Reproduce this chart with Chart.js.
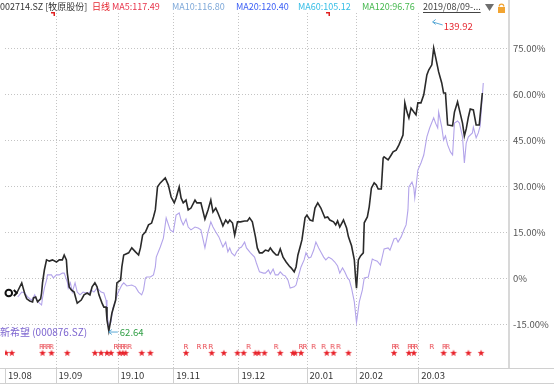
<!DOCTYPE html>
<html>
<head>
<meta charset="utf-8">
<script src="https://cdn.jsdelivr.net/npm/chart.js@4.4.1/dist/chart.umd.min.js"></script>
<style>
  html, body { margin: 0; padding: 0; background: #fff; }
</style>
</head>
<body>
<canvas id="chart" width="554" height="384"></canvas>
<script>
// ===== data =====
// x = trading day index from the first day shown, y = % change since start
const muyuanLine = [[0,-4.9],[1.6,-1.6],[2.6,-5.2],[3.2,-6.8],[4.2,-7.5],[5.1,-7.8],[5.4,-6.5],[6.1,-6.2],[6.7,-7.8],[7.7,-6.8],[8.0,-4.9],[8.3,-1.6],[8.9,2.6],[9.6,5.9],[10.5,5.5],[11.5,5.9],[12.8,5.2],[13.7,5.9],[14.7,5.9],[15.3,7.5],[16.0,5.9],[16.3,1.6],[16.9,-2.9],[17.6,-3.9],[18.5,-4.6],[19.2,-7.2],[19.5,-8.2],[20.8,-7.2],[21.7,-5.5],[22.7,-4.9],[23.6,-5.5],[24.3,-2.9],[25.2,-1.6],[25.9,-2.9],[26.5,-5.5],[27.5,-8.2],[28.1,-9.5],[28.8,-9.5],[29.1,-13.7],[29.7,-17.3],[30.7,-11.4],[31.9,-7.2],[32.3,-1.6],[33.5,-0.7],[33.9,3.6],[34.5,7.5],[36.1,8.2],[37.1,9.8],[38.3,8.5],[39.3,7.5],[39.9,9.8],[40.6,14.0],[41.5,15.0],[42.5,17.3],[43.5,17.9],[44.1,19.9],[44.7,22.2],[45.4,29.7],[46.3,31.0],[47.9,32.6],[48.9,30.3],[49.8,26.4],[50.8,24.5],[51.4,26.1],[52.4,29.7],[53.0,26.1],[53.7,24.5],[54.6,25.4],[55.3,22.2],[56.2,22.8],[57.5,25.4],[58.1,24.5],[59.4,24.5],[60.7,19.2],[61.7,22.2],[62.6,25.4],[63.3,21.5],[64.2,22.8],[64.9,21.2],[65.8,18.9],[66.5,17.0],[67.4,18.9],[68.1,17.9],[68.7,18.9],[69.6,17.9],[70.3,14.0],[71.2,18.3],[72.2,18.3],[73.5,18.6],[74.4,18.6],[75.1,19.6],[76.0,18.3],[77.0,13.4],[77.6,9.8],[78.3,8.2],[79.2,8.2],[80.2,9.1],[81.2,8.8],[81.8,9.8],[82.7,8.5],[83.7,7.5],[84.3,7.5],[85.0,9.5],[85.9,6.8],[86.9,5.2],[87.9,3.9],[88.5,3.3],[89.5,2.0],[90.1,3.6],[90.7,7.5],[91.4,10.1],[92.0,12.4],[93.0,19.6],[93.6,20.5],[94.6,18.9],[95.5,18.6],[96.2,22.8],[97.1,24.5],[98.1,22.8],[99.4,19.6],[100.3,19.9],[101.0,18.9],[102.2,18.3],[102.9,17.3],[103.5,18.6],[104.2,16.6],[105.4,18.9],[106.4,16.3],[107.0,13.4],[108.0,10.5],[108.9,5.9],[109.3,0],[109.6,-3.3],[110.2,5.9],[110.9,7.2],[111.8,8.2],[112.1,18.0],[113.1,19.9],[113.7,23.2],[114.4,29.3],[115.3,31.0],[116.0,30.3],[116.6,29.0],[117.6,29.0],[118.2,39.1],[118.5,39.5],[119.8,38.5],[120.8,40.1],[121.4,41.1],[122.4,41.7],[123.3,43.4],[124.6,46.6],[125.2,57.1],[125.9,54.1],[126.5,52.2],[127.2,55.4],[128.1,54.1],[128.8,53.2],[129.4,57.1],[130.4,57.1],[131.3,59.7],[132.3,66.2],[132.9,67.8],[133.9,69.5],[134.5,75.0],[135.1,72.1],[136.1,67.2],[137.1,63.6],[137.7,60.3],[138.3,60.3],[139.0,49.9],[140.6,49.6],[141.2,54.1],[142.2,57.4],[142.8,54.8],[143.8,50.5],[144.4,46.3],[145.0,48.6],[145.7,52.5],[146.3,55.1],[147.3,54.8],[148.2,49.9],[149.2,49.9],[150.2,60.3]];

const xinxiwangLine = [[0.3,-6.2],[1.6,-4.6],[2.6,-4.9],[3.5,-6.2],[4.8,-7.2],[5.8,-5.5],[6.4,-7.2],[7.3,-8.2],[8.0,-8.8],[8.3,-6.5],[8.9,-3.3],[9.6,-0.7],[9.9,1.0],[11.2,1.0],[11.8,0],[12.8,1.0],[13.7,1.0],[14.7,1.6],[15.3,1.6],[16.3,-1.3],[16.6,-3.3],[17.3,-1.6],[17.9,-4.6],[18.8,-1.6],[19.5,-4.6],[20.4,-5.5],[21.4,-4.6],[22.4,-4.9],[23.3,-4.9],[24.0,-3.9],[24.9,-4.6],[25.9,-3.3],[27.2,-4.6],[28.1,-4.9],[28.8,-7.2],[29.1,-11.4],[29.7,-16.0],[30.4,-14.3],[31.0,-9.8],[31.9,-7.2],[32.6,-4.9],[33.9,-2.3],[34.5,-1.6],[35.5,-2.6],[37.1,-2.3],[38.3,-2.9],[39.3,-4.6],[40.3,-5.5],[40.9,-3.9],[41.5,0],[41.9,0.3],[43.1,0.3],[44.1,1.0],[44.7,3.6],[45.0,6.8],[46.3,10.1],[47.3,13.0],[48.2,19.6],[49.5,15.7],[50.5,15.0],[51.4,20.5],[52.4,21.2],[53.0,18.9],[53.7,17.3],[54.6,19.2],[55.3,16.6],[56.2,15.7],[57.5,16.6],[58.5,16.3],[59.4,15.7],[60.7,9.8],[61.7,15.0],[62.6,18.3],[63.3,16.6],[64.2,15.0],[65.2,13.4],[66.5,10.1],[67.4,11.7],[68.1,8.5],[68.7,9.8],[69.3,8.2],[70.3,7.2],[70.9,8.5],[71.9,9.8],[72.5,10.1],[73.5,11.7],[74.1,9.8],[75.4,8.2],[76.7,6.8],[77.3,4.9],[78.3,2.0],[79.6,1.6],[80.2,1.6],[81.2,2.6],[81.8,1.3],[82.7,2.9],[83.4,1.0],[84.3,1.0],[85.0,2.0],[85.9,1.0],[86.6,0.7],[87.5,-0.7],[88.2,-3.3],[89.5,-2.9],[90.1,-2.3],[90.7,0],[91.7,3.6],[92.7,5.9],[93.3,8.2],[94.2,6.5],[94.9,6.8],[95.8,9.1],[96.5,11.7],[97.4,9.8],[98.1,8.5],[99.0,6.8],[99.7,5.9],[100.6,6.8],[101.6,6.2],[102.6,5.2],[103.5,3.9],[104.2,1.6],[105.1,3.3],[105.8,2.0],[106.7,0],[107.3,-0.7],[108.0,-3.3],[108.9,-7.8],[109.6,-14.5],[110.5,-7.8],[111.5,-3.9],[112.1,0],[113.4,0.3],[114.7,6.2],[115.3,5.9],[116.3,5.5],[117.3,4.2],[118.5,9.5],[119.8,9.8],[120.4,9.1],[121.7,12.7],[122.4,13.0],[123.0,11.7],[124.0,13.4],[124.9,15.7],[125.6,17.3],[126.2,22.2],[126.5,29.7],[127.5,31.3],[128.1,29.3],[128.4,26.1],[129.4,35.2],[130.4,37.5],[131.3,40.1],[132.3,46.0],[133.2,48.9],[134.5,52.2],[135.1,50.5],[135.8,48.9],[136.1,54.1],[137.1,49.2],[137.7,45.0],[138.3,46.3],[139.0,43.4],[139.9,41.1],[140.6,40.1],[141.2,50.5],[142.2,51.2],[142.8,50.5],[143.8,46.0],[144.4,37.5],[145.0,44.0],[145.7,46.0],[147.0,47.3],[147.3,49.2],[148.2,45.7],[148.9,47.3],[149.5,49.6],[150.5,63.6]];

// event markers (trading day index)
const starDays = [-3.5,-1.6,8.3,11.2,16.3,25.2,27.2,29.1,30.4,33.2,34.2,35.1,40.3,43.1,54.6,62.9,66.8,71.2,73.2,77.0,78.0,79.9,85.0,89.1,89.8,91.7,100.0,102.2,107.0,121.7,126.5,128.1,137.7,140.9,145.7,149.8];
const rDays = [8.0,9.0,10.2,11.2,32.0,33.2,34.2,35.1,36.4,54.6,58.8,60.7,62.6,74.8,83.7,91.7,93.0,95.8,99.0,101.9,103.8,121.7,122.7,126.8,127.8,128.8,133.9,138.0,139.0];

const monthLabels = ['19.08','19.09','19.10','19.11','19.12','20.01','20.02','20.03'];
const monthStartDay = [null, 13, 33, 51, 72, 94, 110, 130];
const yTicks = [-15, 0, 15, 30, 45, 60, 75];

const maxPriceLabel = '139.92';
const minPriceLabel = '62.64';

const headerItems = [
  { text: '002714.SZ [牧原股份]', x: 0,   color: '#333333' },
  { text: '日线',                 x: 92,  color: '#e5262e' },
  { text: 'MA5:117.49',           x: 112, color: '#e8334a' },
  { text: 'MA10:116.80',          x: 172, color: '#7fa9d9' },
  { text: 'MA20:120.40',          x: 236, color: '#3b5ef5' },
  { text: 'MA60:105.12',          x: 298, color: '#33bde6' },
  { text: 'MA120:96.76',          x: 362, color: '#45b84e' },
  { text: '2019/08/09-...',       x: 423, color: '#444444' }
];

// ===== scale setup =====
const xMin = -3.8, xMax = 158.8;
const yMin = -29.35, yMax = 86.4;
const starLevel = -24.4, rLevel = -22.5;
const FONT = '"Noto Sans CJK SC", "Noto Sans", sans-serif';
const GRID = '#c4c4c4';
Chart.defaults.font.family = FONT;

function starImage() {
  const c = document.createElement('canvas');
  c.width = 8; c.height = 8;
  const g = c.getContext('2d');
  g.fillStyle = '#e8232b';
  g.beginPath();
  for (let i = 0; i < 10; i++) {
    const r = i % 2 ? 1.5 : 3.6;
    const a = -Math.PI / 2 + i * Math.PI / 5;
    g.lineTo(4 + r * Math.cos(a), 4.3 + r * Math.sin(a));
  }
  g.closePath();
  g.fill();
  return c;
}

function rImage() {
  const c = document.createElement('canvas');
  c.width = 6; c.height = 8;
  const g = c.getContext('2d');
  g.fillStyle = '#e8434b';
  g.font = '7px "DejaVu Sans"';
  g.textAlign = 'center';
  g.textBaseline = 'middle';
  g.fillText('R', 3, 4.5);
  return c;
}

function arrowLeft(ctx, x1, y1, x0, y0) {
  ctx.beginPath();
  ctx.moveTo(x1, y1); ctx.lineTo(x0, y0);
  ctx.moveTo(x0 + 3, y0 - 2.5); ctx.lineTo(x0, y0); ctx.lineTo(x0 + 3, y0 + 2.5);
  ctx.stroke();
}

// dotted grid, drawn from the scale ticks
const dottedGrid = {
  id: 'dottedGrid',
  beforeDatasetsDraw(chart) {
    const ctx = chart.ctx, xs = chart.scales.x, ys = chart.scales.y;
    const area = chart.chartArea;
    ctx.save();
    ctx.strokeStyle = GRID;
    ctx.lineWidth = 1;
    ctx.setLineDash([1, 2]);
    ctx.beginPath();
    ys.ticks.forEach(t => {
      const py = Math.round(ys.getPixelForValue(t.value)) + 0.5;
      ctx.moveTo(area.left, py); ctx.lineTo(area.right + 3, py);
    });
    xs.ticks.forEach((t, i) => {
      if (i === 0) return;
      const px = Math.round(xs.getPixelForValue(t.value)) + 0.5;
      ctx.moveTo(px, area.top); ctx.lineTo(px, area.bottom);
    });
    ctx.stroke();
    ctx.restore();
  }
};

const decorations = {
  id: 'decorations',
  afterDraw(chart) {
    const ctx = chart.ctx, xs = chart.scales.x, ys = chart.scales.y;
    const area = chart.chartArea;
    ctx.save();

    // frame of the date strip and right border
    ctx.strokeStyle = '#d0d0d0';
    ctx.lineWidth = 1;
    ctx.beginPath();
    ctx.moveTo(0, area.bottom + 0.5); ctx.lineTo(554, area.bottom + 0.5);
    ctx.moveTo(0, 383.5); ctx.lineTo(554, 383.5);
    xs.ticks.forEach(t => {
      const px = Math.round(xs.getPixelForValue(t.value)) + 0.5;
      ctx.moveTo(px, area.bottom); ctx.lineTo(px, 384);
    });
    ctx.stroke();
    ctx.strokeStyle = '#d8d8d8';
    ctx.lineWidth = 2;
    ctx.beginPath();
    ctx.moveTo(area.right, 0); ctx.lineTo(area.right, area.bottom);
    ctx.stroke();

    // header
    ctx.font = '9px ' + FONT;
    ctx.textBaseline = 'middle';
    headerItems.forEach(h => {
      ctx.fillStyle = h.color;
      ctx.fillText(h.text, h.x, 7);
    });
    const last = headerItems[headerItems.length - 1];
    const w = ctx.measureText(last.text).width;
    ctx.fillStyle = '#444';
    ctx.fillRect(last.x, 12, w, 1);
    // dropdown triangle
    ctx.fillStyle = '#6e6e6e';
    ctx.beginPath();
    ctx.moveTo(485, 4); ctx.lineTo(494, 4); ctx.lineTo(489.5, 11); ctx.closePath();
    ctx.fill();
    // lock
    ctx.fillStyle = '#f2a431';
    ctx.fillRect(498, 7, 7, 6);
    ctx.strokeStyle = '#f2a431';
    ctx.lineWidth = 1.2;
    ctx.beginPath();
    ctx.arc(501.5, 6.5, 2.3, Math.PI, 0);
    ctx.stroke();

    // small red flags on top
    ctx.fillStyle = '#e02020';
    [51, 326].forEach(x => {
      ctx.fillRect(x, 12, 4, 1.5);
      ctx.fillRect(x + 2.5, 12, 1.5, 4);
    });

    // start marker
    const p0x = xs.getPixelForValue(muyuanLine[0][0]);
    const p0y = ys.getPixelForValue(muyuanLine[0][1]);
    ctx.strokeStyle = '#111';
    ctx.lineWidth = 2;
    ctx.beginPath();
    ctx.arc(p0x - 8, p0y, 3.3, 0, Math.PI * 2);
    ctx.stroke();
    ctx.beginPath();
    ctx.moveTo(p0x - 3, p0y - 3); ctx.lineTo(p0x, p0y); ctx.lineTo(p0x - 3, p0y + 3);
    ctx.stroke();

    // max / min labels
    let iMax = 0, iMin = 0;
    muyuanLine.forEach((p, i) => {
      if (p[1] > muyuanLine[iMax][1]) iMax = i;
      if (p[1] < muyuanLine[iMin][1]) iMin = i;
    });
    ctx.font = '9.5px ' + FONT;
    ctx.strokeStyle = '#5aa9d6';
    ctx.lineWidth = 1;
    const mx = xs.getPixelForValue(muyuanLine[iMax][0]);
    const my = ys.getPixelForValue(muyuanLine[iMax][1]);
    arrowLeft(ctx, mx + 9, my - 23, mx - 1, my - 26);
    ctx.fillStyle = '#e5262e';
    ctx.fillText(maxPriceLabel, mx + 10, my - 22);
    const nx = xs.getPixelForValue(muyuanLine[iMin][0]);
    const ny = ys.getPixelForValue(muyuanLine[iMin][1]);
    arrowLeft(ctx, nx + 9, ny + 1, nx, ny + 1);
    ctx.fillStyle = '#2f9e44';
    ctx.fillText(minPriceLabel, nx + 11, ny + 1);

    // second stock name
    ctx.font = '10px ' + FONT;
    ctx.fillStyle = '#7b63cf';
    ctx.fillText('新希望 (000876.SZ)', 0, 332);

    ctx.restore();
  }
};

const toPoints = arr => arr.map(p => ({ x: p[0], y: p[1] }));

new Chart(document.getElementById('chart'), {
  type: 'line',
  data: {
    datasets: [
      {
        label: '002714.SZ',
        data: toPoints(muyuanLine),
        borderColor: '#2a2a2a',
        borderWidth: 1.6,
        pointRadius: 0,
        tension: 0,
        order: 1
      },
      {
        label: '000876.SZ',
        data: toPoints(xinxiwangLine),
        borderColor: '#b3a4ea',
        borderWidth: 1.1,
        pointRadius: 0,
        tension: 0,
        order: 2
      },
      {
        label: 'stars',
        data: starDays.map(d => ({ x: d, y: starLevel })),
        showLine: false,
        pointStyle: starImage(),
        pointRadius: 4,
        order: 3
      },
      {
        label: 'R',
        data: rDays.map(d => ({ x: d, y: rLevel })),
        showLine: false,
        pointStyle: rImage(),
        pointRadius: 4,
        order: 3
      }
    ]
  },
  options: {
    responsive: false,
    animation: false,
    devicePixelRatio: 1,
    layout: { padding: { top: 13, left: 0, right: 0, bottom: 0 } },
    plugins: { legend: { display: false }, tooltip: { enabled: false } },
    scales: {
      x: {
        type: 'linear',
        min: xMin,
        max: xMax,
        afterBuildTicks: s => {
          s.ticks = [{ value: xMin }].concat(monthStartDay.slice(1).map(d => ({ value: d - 0.5 })));
        },
        afterFit: s => { s.height = 16; },
        ticks: {
          autoSkip: false,
          maxRotation: 0,
          align: 'start',
          labelOffset: 3,
          padding: 2,
          color: '#333',
          font: { size: 9.5 },
          callback: (v, i) => monthLabels[i]
        },
        grid: { display: false, drawTicks: false },
        border: { display: false }
      },
      y: {
        position: 'right',
        min: yMin,
        max: yMax,
        afterBuildTicks: s => { s.ticks = yTicks.map(v => ({ value: v })); },
        afterFit: s => { s.width = 45; },
        ticks: {
          padding: 4,
          color: '#555',
          font: { size: 9.5 },
          callback: v => v === 0 ? '0%' : v.toFixed(2) + '%'
        },
        grid: { display: false, drawTicks: false },
        border: { display: false }
      }
    }
  },
  plugins: [dottedGrid, decorations]
});
</script>
</body>
</html>
